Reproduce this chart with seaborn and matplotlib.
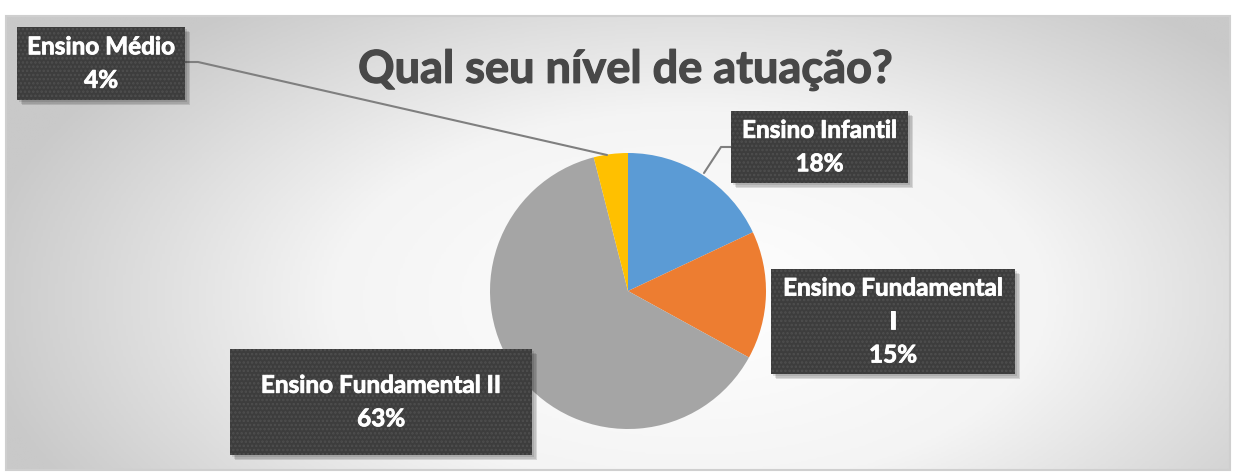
# %%
# import libraries

import numpy as np
import matplotlib.pyplot as plt
import matplotlib.patheffects as pe
import seaborn as sns
from matplotlib.colors import LinearSegmentedColormap
from matplotlib.patches import Rectangle

# %%
# chart data

categories = ['Ensino Infantil', 'Ensino Fundamental I', 'Ensino Fundamental II', 'Ensino Médio']
box_labels = ['Ensino Infantil', 'Ensino Fundamental\nI', 'Ensino Fundamental II', 'Ensino Médio']
shares = [18, 15, 63, 4]
title = 'Qual seu nível de atuação?'

# %%
# style

sns.set_style('white')
plt.rcParams['font.family'] = ['Lato', 'DejaVu Sans']
plt.rcParams['hatch.linewidth'] = 1.2
colors = sns.color_palette(['#5B9BD5', '#ED7D31', '#A5A5A5', '#FFC000'])

W, H = 1235, 474
fig = plt.figure(figsize = (W / 100, H / 100), dpi = 100)
fig.patch.set_facecolor('white')
ax = fig.add_axes([0, 0, 1, 1])

def py(y):
    # pixel row (top down) to axis y (bottom up)
    return H - y

# %%
# background gradient of the chart area

x0, x1, y0, y1 = 6, 1230, py(470), py(16)
xx, yy = np.meshgrid(np.linspace(x0, x1, 500), np.linspace(y0, y1, 200))
dist = np.sqrt(((xx - 690) / 720) ** 2 + ((yy - py(300)) / 380) ** 2)
grad = LinearSegmentedColormap.from_list('bg', ['#ffffff', '#f4f4f4', '#c9c9c9'])
ax.imshow(np.clip(dist, 0, 1), extent = (x0, x1, y0, y1), origin = 'lower',
          cmap = grad, vmin = 0, vmax = 1, aspect = 'auto', zorder = 0)
ax.add_patch(Rectangle((x0, y0), x1 - x0, y1 - y0, fill = False, ec = '#cfcfcf', lw = 1.5, zorder = 1))

# %%
# pie

wedges, _ = ax.pie(shares, colors = colors, startangle = 90, counterclock = False,
                   center = (628, py(291)), radius = 138, wedgeprops = dict(linewidth = 0))
for w in wedges:
    w.set_zorder(3)

ax.set_xlim(0, W)
ax.set_ylim(0, H)
ax.set_aspect('equal', adjustable = 'box')
ax.axis('off')

# %%
# title

ax.text(626, py(70), title, ha = 'center', va = 'center', fontsize = 32.5,
        fontweight = 'bold', color = '#484848', zorder = 5,
        path_effects = [pe.withStroke(linewidth = 0.9, foreground = '#484848')])

# %%
# leader lines

ax.plot([185, 198, 607], [py(62), py(62), py(155)], color = '#7f7f7f', lw = 1.5, zorder = 4)
ax.plot([731, 721, 704], [py(147), py(147), py(173)], color = '#7f7f7f', lw = 1.5, zorder = 4)

# %%
# label boxes

boxes = {
    'Ensino Médio': (17, 27, 185, 100),
    'Ensino Infantil': (731, 111, 908, 183),
    'Ensino Fundamental I': (771, 269, 1015, 374),
    'Ensino Fundamental II': (230, 349, 532, 455),
}
for cat, lab, val in zip(categories, box_labels, shares):
    bx0, by0, bx1, by1 = boxes[cat]
    w, h = bx1 - bx0, by1 - by0
    for k, a in enumerate([0.10, 0.10, 0.12]):
        off = 2 + k * 1.5
        ax.add_patch(Rectangle((bx0 + off, py(by1) - off), w, h, fc = 'black', alpha = a, lw = 0, zorder = 5))
    ax.add_patch(Rectangle((bx0, py(by1)), w, h, fc = '#3d3d3d', lw = 0, zorder = 6))
    ax.add_patch(Rectangle((bx0, py(by1)), w, h, fill = False, hatch = '....', ec = '#4f4f4f', lw = 0, zorder = 7))
    ax.text((bx0 + bx1) / 2, py((by0 + by1) / 2), '%s\n%d%%' % (lab, val), ha = 'center', va = 'center',
            fontsize = 17.5, fontweight = 'bold', color = 'white', linespacing = 1.55, zorder = 8,
            path_effects = [pe.withStroke(linewidth = 0.6, foreground = 'white')])

fig.savefig('out.png', dpi = 100)
